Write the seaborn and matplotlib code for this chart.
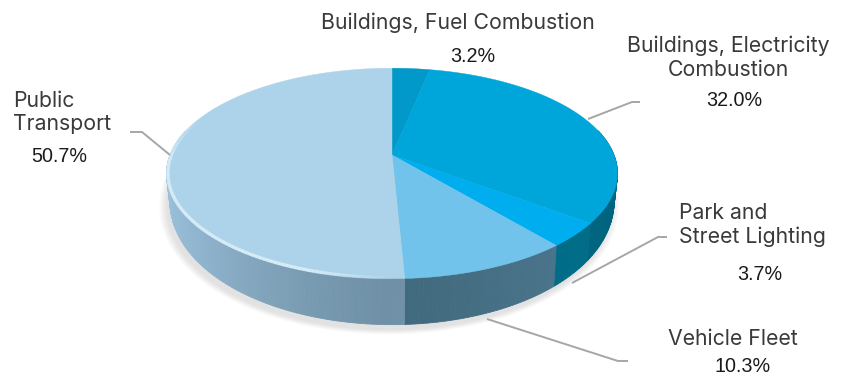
import numpy as np
import pandas as pd
import matplotlib
matplotlib.use("Agg")
import matplotlib.pyplot as plt
import seaborn as sns

categories = ["Buildings, Fuel Combustion", "Buildings, Electricity Combustion",
              "Park and Street Lighting", "Vehicle Fleet", "Public Transport"]
shares = [3.2, 32.0, 3.7, 10.3, 50.7]
top_colors = ["#0099C9", "#00A6DA", "#00AEEF", "#72C3EC", "#ADD3EA"]
wall_near = ["#00708C", "#00607A", "#006C88", "#426A7E", "#6F90A6"]
wall_far = ["#00708C", "#006580", "#006C88", "#4F7C95", "#9CC2DC"]

sns.set_theme(style="white")
df = pd.DataFrame({"category": categories, "share": shares})
palette = sns.color_palette(top_colors)

# Perspective disc geometry
CX, CY, R, H, K = 392.0, 155.0, 222.0, 102.0, 0.175

def project(theta, r=1.0):
    u, v = r * np.sin(theta), r * np.cos(theta)
    w = 1 + K * v
    return CX + R * u / w, CY - H * v / w

def project_low(theta):
    x, y = project(theta)
    return CX + (x - CX) * 0.985, y + 24 + 22 * np.maximum(-np.cos(theta), 0)

fig = plt.figure(figsize=(8.44, 3.75), dpi=100)
ax = fig.add_axes([0, 0, 1, 1])
ax.set_xlim(0, 844)
ax.set_ylim(375, 0)
ax.axis("off")

edges = np.deg2rad(np.concatenate([[0], np.cumsum(df["share"]) / df["share"].sum() * 360]))

# Soft shadow under the disc
full = np.linspace(0, 2 * np.pi, 360)
lx, ly = project_low(full)
for grow in np.linspace(1.035, 1.0, 8):
    ax.fill(CX - 3 + (lx - CX) * grow, ly + 5 + (ly - 190) * (grow - 1),
            color="#555555", alpha=0.018, lw=0, zorder=1)

# Side wall, slice by slice, shaded along the rim
for i in range(len(df)):
    t0, t1 = edges[i], edges[i + 1]
    ts = np.append(np.arange(t0, t1, np.deg2rad(1.0)), t1)
    c_near = np.array(matplotlib.colors.to_rgb(wall_near[i]))
    c_far = np.array(matplotlib.colors.to_rgb(wall_far[i]))
    for a, b in zip(ts[:-1], ts[1:]):
        mid = (a + b) / 2
        if np.cos(mid) > 0.25:
            continue
        f = np.clip(abs(np.sin(mid)) ** 1.3, 0, 1)
        col = c_near + (c_far - c_near) * f
        seg = np.array([a, b])
        xt, yt = project(seg)
        xb, yb = project_low(seg)
        ax.fill([xt[0], xt[1], xb[1], xb[0]], [yt[0], yt[1], yb[1], yb[0]],
                color=col, ec=col, lw=0.6, zorder=2)

# Top face
for i in range(len(df)):
    ts = np.linspace(edges[i], edges[i + 1], 200)
    x, y = project(ts)
    ax.fill(np.r_[CX, x], np.r_[CY, y], color=palette[i], ec=palette[i], lw=0.3, zorder=3)

# Bright bevel on the front rim of the public transport slice
ts = np.deg2rad(np.arange(180, 292, 1.0))
for a, b in zip(ts[:-1], ts[1:]):
    mid = np.rad2deg((a + b) / 2)
    alpha = np.clip(min((mid - 180) / 18, (292 - mid) / 25), 0, 1)
    x, y = project(np.array([a, b]), r=0.994)
    ax.plot(x, y, color="#D6ECF7", lw=2.4, alpha=alpha, solid_capstyle="butt", zorder=4)

# Leader lines
leaders = [
    ([130, 142, 170], [132, 132, 155]),
    ([588, 632, 640], [119, 102, 102]),
    ([572, 658, 667], [283, 237, 237]),
    ([487, 618, 628], [319, 361, 361]),
]
for lxs, lys in leaders:
    ax.plot(lxs, lys, color="#A6A6A6", lw=1.4, solid_capstyle="butt", zorder=5)

# Labels
lab = dict(family="Inter", fontsize=15.3, color="#3A3A3A", va="center", zorder=6)
num = dict(family="Liberation Sans", fontsize=14.2, color="#1A1A1A", ha="center", va="center", zorder=6)
ax.text(458, 23, "Buildings, Fuel Combustion", ha="center", **lab)
ax.text(728, 46, "Buildings, Electricity", ha="center", **lab)
ax.text(728, 70, "Combustion", ha="center", **lab)
ax.text(13, 101, "Public", ha="left", **lab)
ax.text(13, 124, "Transport", ha="left", **lab)
ax.text(679, 213, "Park and", ha="left", **lab)
ax.text(679, 237, "Street Lighting", ha="left", **lab)
ax.text(733, 339, "Vehicle Fleet", ha="center", **lab)
for s, (x, y) in zip(df["share"], [(473, 56), (734, 101), (760, 274), (743, 367), (59, 156)]):
    ax.text(x, y, f"{s:.1f}%", **num)

fig.savefig("out.png", dpi=100, facecolor="white")
